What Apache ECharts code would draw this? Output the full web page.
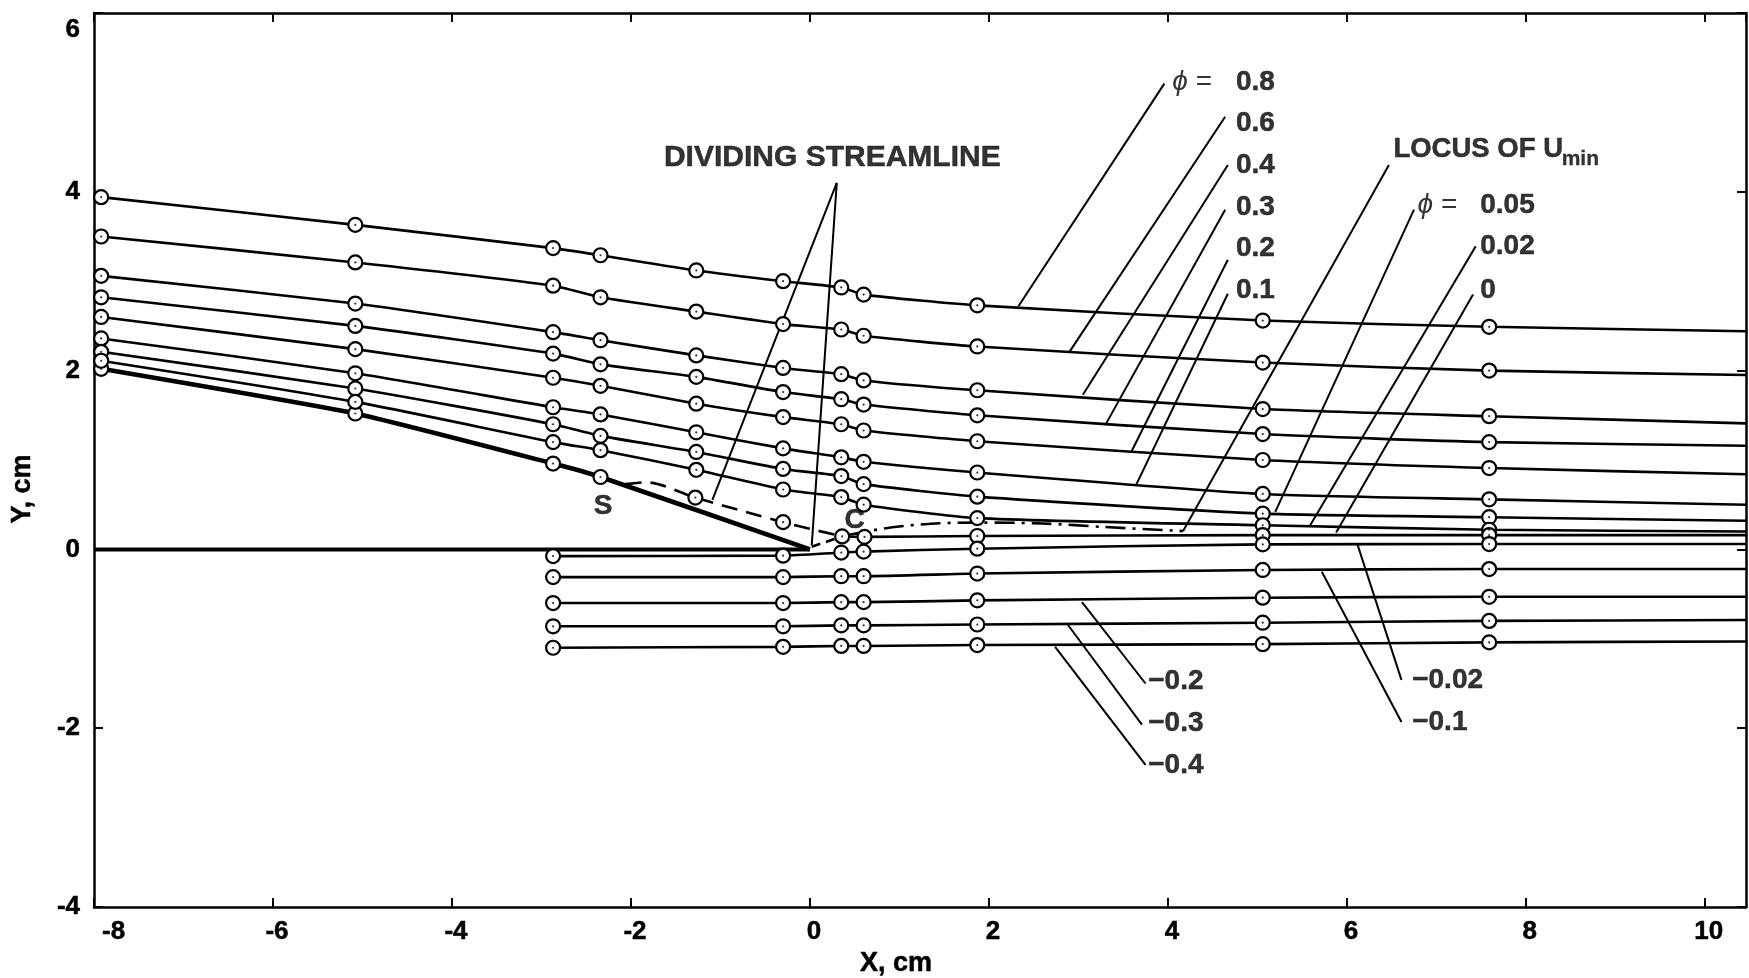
<!DOCTYPE html>
<html>
<head>
<meta charset="utf-8">
<title>Streamlines near the trailing edge</title>
<script src="https://cdn.jsdelivr.net/npm/echarts@6/dist/echarts.min.js"></script>
<style>
  html, body { margin: 0; padding: 0; background: #ffffff; }
  #chart { width: 1749px; height: 978px; }
</style>
</head>
<body>
<div id="chart"></div>
<script>
// ---- Measurement stations, X in cm ----
const upperStations = [-7.92, -5.08, -2.87, -2.34, -1.27, -0.30, 0.35, 0.60, 1.87, 5.06, 7.59];
const lowerStations = [-2.87, -0.30, 0.35, 0.60, 1.87, 5.06, 7.59];
const wakeStations  = [0.36, 0.61, 1.87, 5.06, 7.59];
const wallStations  = [-7.92, -5.08, -2.87, -2.34];
const xOutlet = 10.46;          // right edge of the plot, where the streamlines leave it

// ---- Streamline heights Y (cm) at each station; the last entry is the height at xOutlet ----
const phi080 = [3.94, 3.63, 3.37, 3.29, 3.12, 3.00, 2.93, 2.85, 2.73, 2.56, 2.49, 2.44];
const phi060 = [3.50, 3.21, 2.95, 2.82, 2.66, 2.52, 2.46, 2.39, 2.27, 2.09, 2.00, 1.95];
const phi040 = [3.06, 2.75, 2.43, 2.34, 2.17, 2.03, 1.96, 1.89, 1.78, 1.57, 1.49, 1.41];
const phi030 = [2.82, 2.50, 2.19, 2.07, 1.93, 1.76, 1.68, 1.62, 1.50, 1.29, 1.20, 1.16];
const phi020 = [2.60, 2.24, 1.92, 1.83, 1.63, 1.48, 1.40, 1.33, 1.21, 1.00, 0.91, 0.84];
const phi010 = [2.36, 1.97, 1.59, 1.51, 1.31, 1.13, 1.03, 0.98, 0.86, 0.62, 0.56, 0.50];
const phi005 = [2.21, 1.80, 1.40, 1.27, 1.09, 0.90, 0.82, 0.73, 0.59, 0.40, 0.36, 0.32];
const phi002 = [2.11, 1.65, 1.20, 1.11, 0.89, 0.67, 0.585, 0.50, 0.35, 0.27, 0.22, 0.20];
const phi000Wall = [2.02, 1.52, 0.96, 0.81];            // along the body surface
const phi000Wake = [0.145, 0.14, 0.15, 0.16, 0.16, 0.16]; // downstream of C
const phiM002 = [-0.075, -0.07, -0.035, -0.025, 0.008, 0.056, 0.06, 0.06];
const phiM010 = [-0.31, -0.31, -0.30, -0.30, -0.27, -0.23, -0.22, -0.22];
const phiM020 = [-0.60, -0.60, -0.59, -0.59, -0.57, -0.54, -0.53, -0.53];
const phiM030 = [-0.86, -0.86, -0.85, -0.85, -0.84, -0.82, -0.80, -0.79];
const phiM040 = [-1.10, -1.09, -1.08, -1.08, -1.07, -1.06, -1.04, -1.03];

// Trailing edge of the body (end of wall and splitter plate)
const trailingEdge = [0, 0];
const plateStart = -8;

// Dividing streamline from separation point S to closure point C (dashed)
const dividingX = [-2.06, -1.83, -1.28, -0.30, 0.36];
const dividingY = [0.73, 0.75, 0.58, 0.305, 0.145];
const dividingMarked = [false, false, true, true, false];
// Short dividing streamline from the trailing edge to C
const edgeDividingX = [0.02, 0.36];
const edgeDividingY = [0.03, 0.145];

// Locus of minimum velocity (dash-dot)
const locusX = [0.42, 0.90, 1.40, 1.90, 2.60, 3.30, 4.17];
const locusY = [0.16, 0.245, 0.29, 0.30, 0.29, 0.25, 0.205];

// Leader lines from each label to its curve: [xLabelEnd, yLabelEnd, xCurveEnd, yCurveEnd]
const leaderLines = [
  [3.96, 5.21, 2.33, 2.72],    // 0.8
  [4.64, 4.84, 2.90, 2.21],    // 0.6
  [4.67, 4.30, 3.05, 1.73],    // 0.4
  [4.64, 3.80, 3.30, 1.39],    // 0.3
  [4.67, 3.24, 3.59, 1.09],    // 0.2
  [4.67, 2.86, 3.64, 0.71],    // 0.1
  [6.47, 4.30, 4.17, 0.205],   // locus of Umin
  [6.75, 3.80, 5.20, 0.42],    // 0.05
  [7.44, 3.39, 5.59, 0.27],    // 0.02
  [7.41, 2.85, 5.88, 0.19],    // 0
  [3.75, -1.50, 3.04, -0.59],  // -0.2
  [3.71, -1.96, 2.88, -0.84],  // -0.3
  [3.75, -2.41, 2.74, -1.09],  // -0.4
  [6.61, -1.46, 6.12, 0.05],   // -0.02
  [6.61, -1.93, 5.72, -0.25],  // -0.1
  [0.30, 4.10, -1.09, 0.555],  // dividing streamline, upper branch
  [0.30, 4.10, 0.02, 0.045]    // dividing streamline, trailing-edge branch
];

// Curve values written next to the leader lines: [text, x, y] (text starts at x)
const curveTags = [
  ['0.8', 4.76, 5.23], ['0.6', 4.76, 4.77], ['0.4', 4.76, 4.30],
  ['0.3', 4.76, 3.83], ['0.2', 4.76, 3.37], ['0.1', 4.76, 2.90],
  ['0.05', 7.49, 3.85], ['0.02', 7.49, 3.39], ['0', 7.49, 2.90],
  ['\u22120.2', 3.78, -1.48], ['\u22120.3', 3.78, -1.95], ['\u22120.4', 3.78, -2.41],
  ['\u22120.02', 6.73, -1.46], ['\u22120.1', 6.73, -1.93]
];
const phiTags = [[4.05, 5.23], [6.79, 3.85]];
const noteTags = [
  ['S', -2.31, 0.48],
  ['C', 0.50, 0.33]
];
const titleTag = ['DIVIDING STREAMLINE', 0.25, 4.38];
const locusTag = ['LOCUS OF U', 6.52, 4.47];
const locusSub = ['min', 8.40, 4.36];

const xTicks = { min: -8, max: xOutlet, step: 2 };
const yTicks = { min: -4, max: 6, step: 2 };

// ---- Styling ----
const INK = '#000000';
const FONT = '"Liberation Sans", Arial, "DejaVu Sans", sans-serif';
const markerStyle = { color: '#ffffff', borderColor: INK, borderWidth: 2.2 };

const markerPoints = [];

function streamline(stations, ys, width) {
  const pts = stations.map((x, i) => {
    markerPoints.push([x, ys[i]]);
    return { value: [x, ys[i]] };
  });
  if (ys.length > stations.length) {
    pts.push({ value: [xOutlet, ys[stations.length]], symbol: 'none' });
  }
  return {
    type: 'line', data: pts, smooth: 0.2,
    symbol: 'circle', symbolSize: 14, showAllSymbol: true,
    lineStyle: { color: INK, width: width || 2.6 },
    itemStyle: markerStyle, z: 3
  };
}

const series = [];

// Splitter plate along Y = 0
series.push({
  type: 'line', data: [[plateStart, 0], trailingEdge], symbol: 'none',
  lineStyle: { color: INK, width: 4 }, z: 2
});

// Body surface (phi = 0 up to separation), thick
const wallSeries = streamline(wallStations, phi000Wall, 4.6);
wallSeries.data.push({ value: trailingEdge, symbol: 'none' });
wallSeries.smooth = 0.15;
series.push(wallSeries);

[phi080, phi060, phi040, phi030, phi020, phi010, phi005, phi002].forEach(ys => {
  series.push(streamline(upperStations, ys));
});
series.push(streamline(wakeStations, phi000Wake));
[phiM002, phiM010, phiM020, phiM030, phiM040].forEach(ys => {
  series.push(streamline(lowerStations, ys));
});

// Dividing streamline (dashed)
series.push({
  type: 'line', smooth: 0.3, showAllSymbol: true,
  data: dividingX.map((x, i) => {
    if (dividingMarked[i]) markerPoints.push([x, dividingY[i]]);
    return { value: [x, dividingY[i]], symbol: dividingMarked[i] ? 'circle' : 'none' };
  }),
  symbolSize: 14, itemStyle: markerStyle,
  lineStyle: { color: INK, width: 2.6, type: [16, 9] }, z: 3
});
series.push({
  type: 'line', symbol: 'none',
  data: edgeDividingX.map((x, i) => [x, edgeDividingY[i]]),
  lineStyle: { color: INK, width: 2.6, type: [9, 6] }, z: 2
});

// Locus of Umin (dash-dot)
series.push({
  type: 'line', symbol: 'none', smooth: 0.3,
  data: locusX.map((x, i) => [x, locusY[i]]),
  lineStyle: { color: INK, width: 2.6, type: [20, 7, 3, 7] }, z: 2
});

// Leader lines
leaderLines.forEach(([x1, y1, x2, y2]) => {
  series.push({
    type: 'line', symbol: 'none', data: [[x1, y1], [x2, y2]],
    lineStyle: { color: INK, width: 2 }, z: 2
  });
});

// Dots at the centre of every measurement circle
series.push({
  type: 'scatter', data: markerPoints, symbol: 'circle', symbolSize: 2.2,
  itemStyle: { color: INK }, z: 5
});

const textBase = {
  show: true, color: INK, fontFamily: FONT, fontWeight: 'bold', fontSize: 28,
  textBorderColor: INK, textBorderWidth: 0.5
};

function textSeries(items, labelExtra) {
  return {
    type: 'scatter', symbolSize: 0, z: 6,
    data: items.map(([t, x, y]) => ({ value: [x, y], name: t })),
    label: Object.assign({}, textBase, { position: 'right', distance: 0, formatter: p => p.name }, labelExtra || {})
  };
}

// Curve values, left-aligned at their anchor
series.push(textSeries(curveTags));
// "phi =" prefixes
series.push(textSeries(phiTags.map(([x, y]) => ['', x, y]), {
  fontWeight: 'normal', textBorderWidth: 0,
  formatter: '{phi|\u03D5} =',
  rich: { phi: { fontStyle: 'italic', fontFamily: FONT, fontSize: 28, color: INK } }
}));
// Centred notes
series.push(textSeries(noteTags, { position: 'inside' }));
series.push(textSeries([titleTag], { position: 'inside', fontSize: 30 }));
// LOCUS OF U with subscript
series.push(textSeries([locusTag], { fontSize: 27.5 }));
series.push(textSeries([locusSub], { fontSize: 21, textBorderWidth: 0.3 }));

series.forEach(s => { s.silent = true; s.animation = false; s.emphasis = { disabled: true }; });

const axisLine = { show: true, onZero: false, lineStyle: { color: INK, width: 2.5 } };
const axisTick = { show: true, inside: true, length: 9, lineStyle: { color: INK, width: 2 } };
const tickFont = {
  color: INK, fontFamily: FONT, fontWeight: 'bold', fontSize: 26,
  textBorderColor: INK, textBorderWidth: 0.5
};
const signed = v => (v < 0 ? '-' : '') + Math.abs(v);

const option = {
  backgroundColor: '#ffffff',
  animation: false,
  grid: { left: 94, top: 13, width: 1652, height: 894, containLabel: false, outerBoundsMode: 'none' },
  xAxis: [
    {
      type: 'value', position: 'bottom', min: xTicks.min, max: xTicks.max, interval: xTicks.step,
      axisLine, axisTick, splitLine: { show: false },
      axisLabel: Object.assign({ margin: 12, showMaxLabel: false, alignMinLabel: 'left',
        padding: [0, 0, 0, 8], formatter: signed }, tickFont),
      name: 'X, cm', nameLocation: 'middle', nameGap: 40,
      nameTextStyle: { color: INK, fontFamily: FONT, fontWeight: 'bold', fontSize: 27,
        textBorderColor: INK, textBorderWidth: 0.5, padding: [0, 48, 0, 0] }
    },
    {
      type: 'value', position: 'top', min: xTicks.min, max: xTicks.max, interval: xTicks.step,
      axisLine, axisTick, splitLine: { show: false }, axisLabel: { show: false }
    }
  ],
  yAxis: [
    {
      type: 'value', position: 'left', min: yTicks.min, max: yTicks.max, interval: yTicks.step,
      axisLine, axisTick, splitLine: { show: false },
      axisLabel: Object.assign({ margin: 14, padding: [4, 0, 0, 0],
        verticalAlignMaxLabel: 'top', formatter: signed }, tickFont),
      name: 'Y, cm', nameLocation: 'middle', nameGap: 58,
      nameTextStyle: { color: INK, fontFamily: FONT, fontWeight: 'bold', fontSize: 27,
        textBorderColor: INK, textBorderWidth: 0.5, padding: [0, 58, 0, 0] }
    },
    {
      type: 'value', position: 'right', min: yTicks.min, max: yTicks.max, interval: yTicks.step,
      axisLine, axisTick, splitLine: { show: false }, axisLabel: { show: false }
    }
  ],
  series
};

const chart = echarts.init(document.getElementById('chart'), null, { renderer: 'canvas' });
chart.setOption(option);
</script>
</body>
</html>
